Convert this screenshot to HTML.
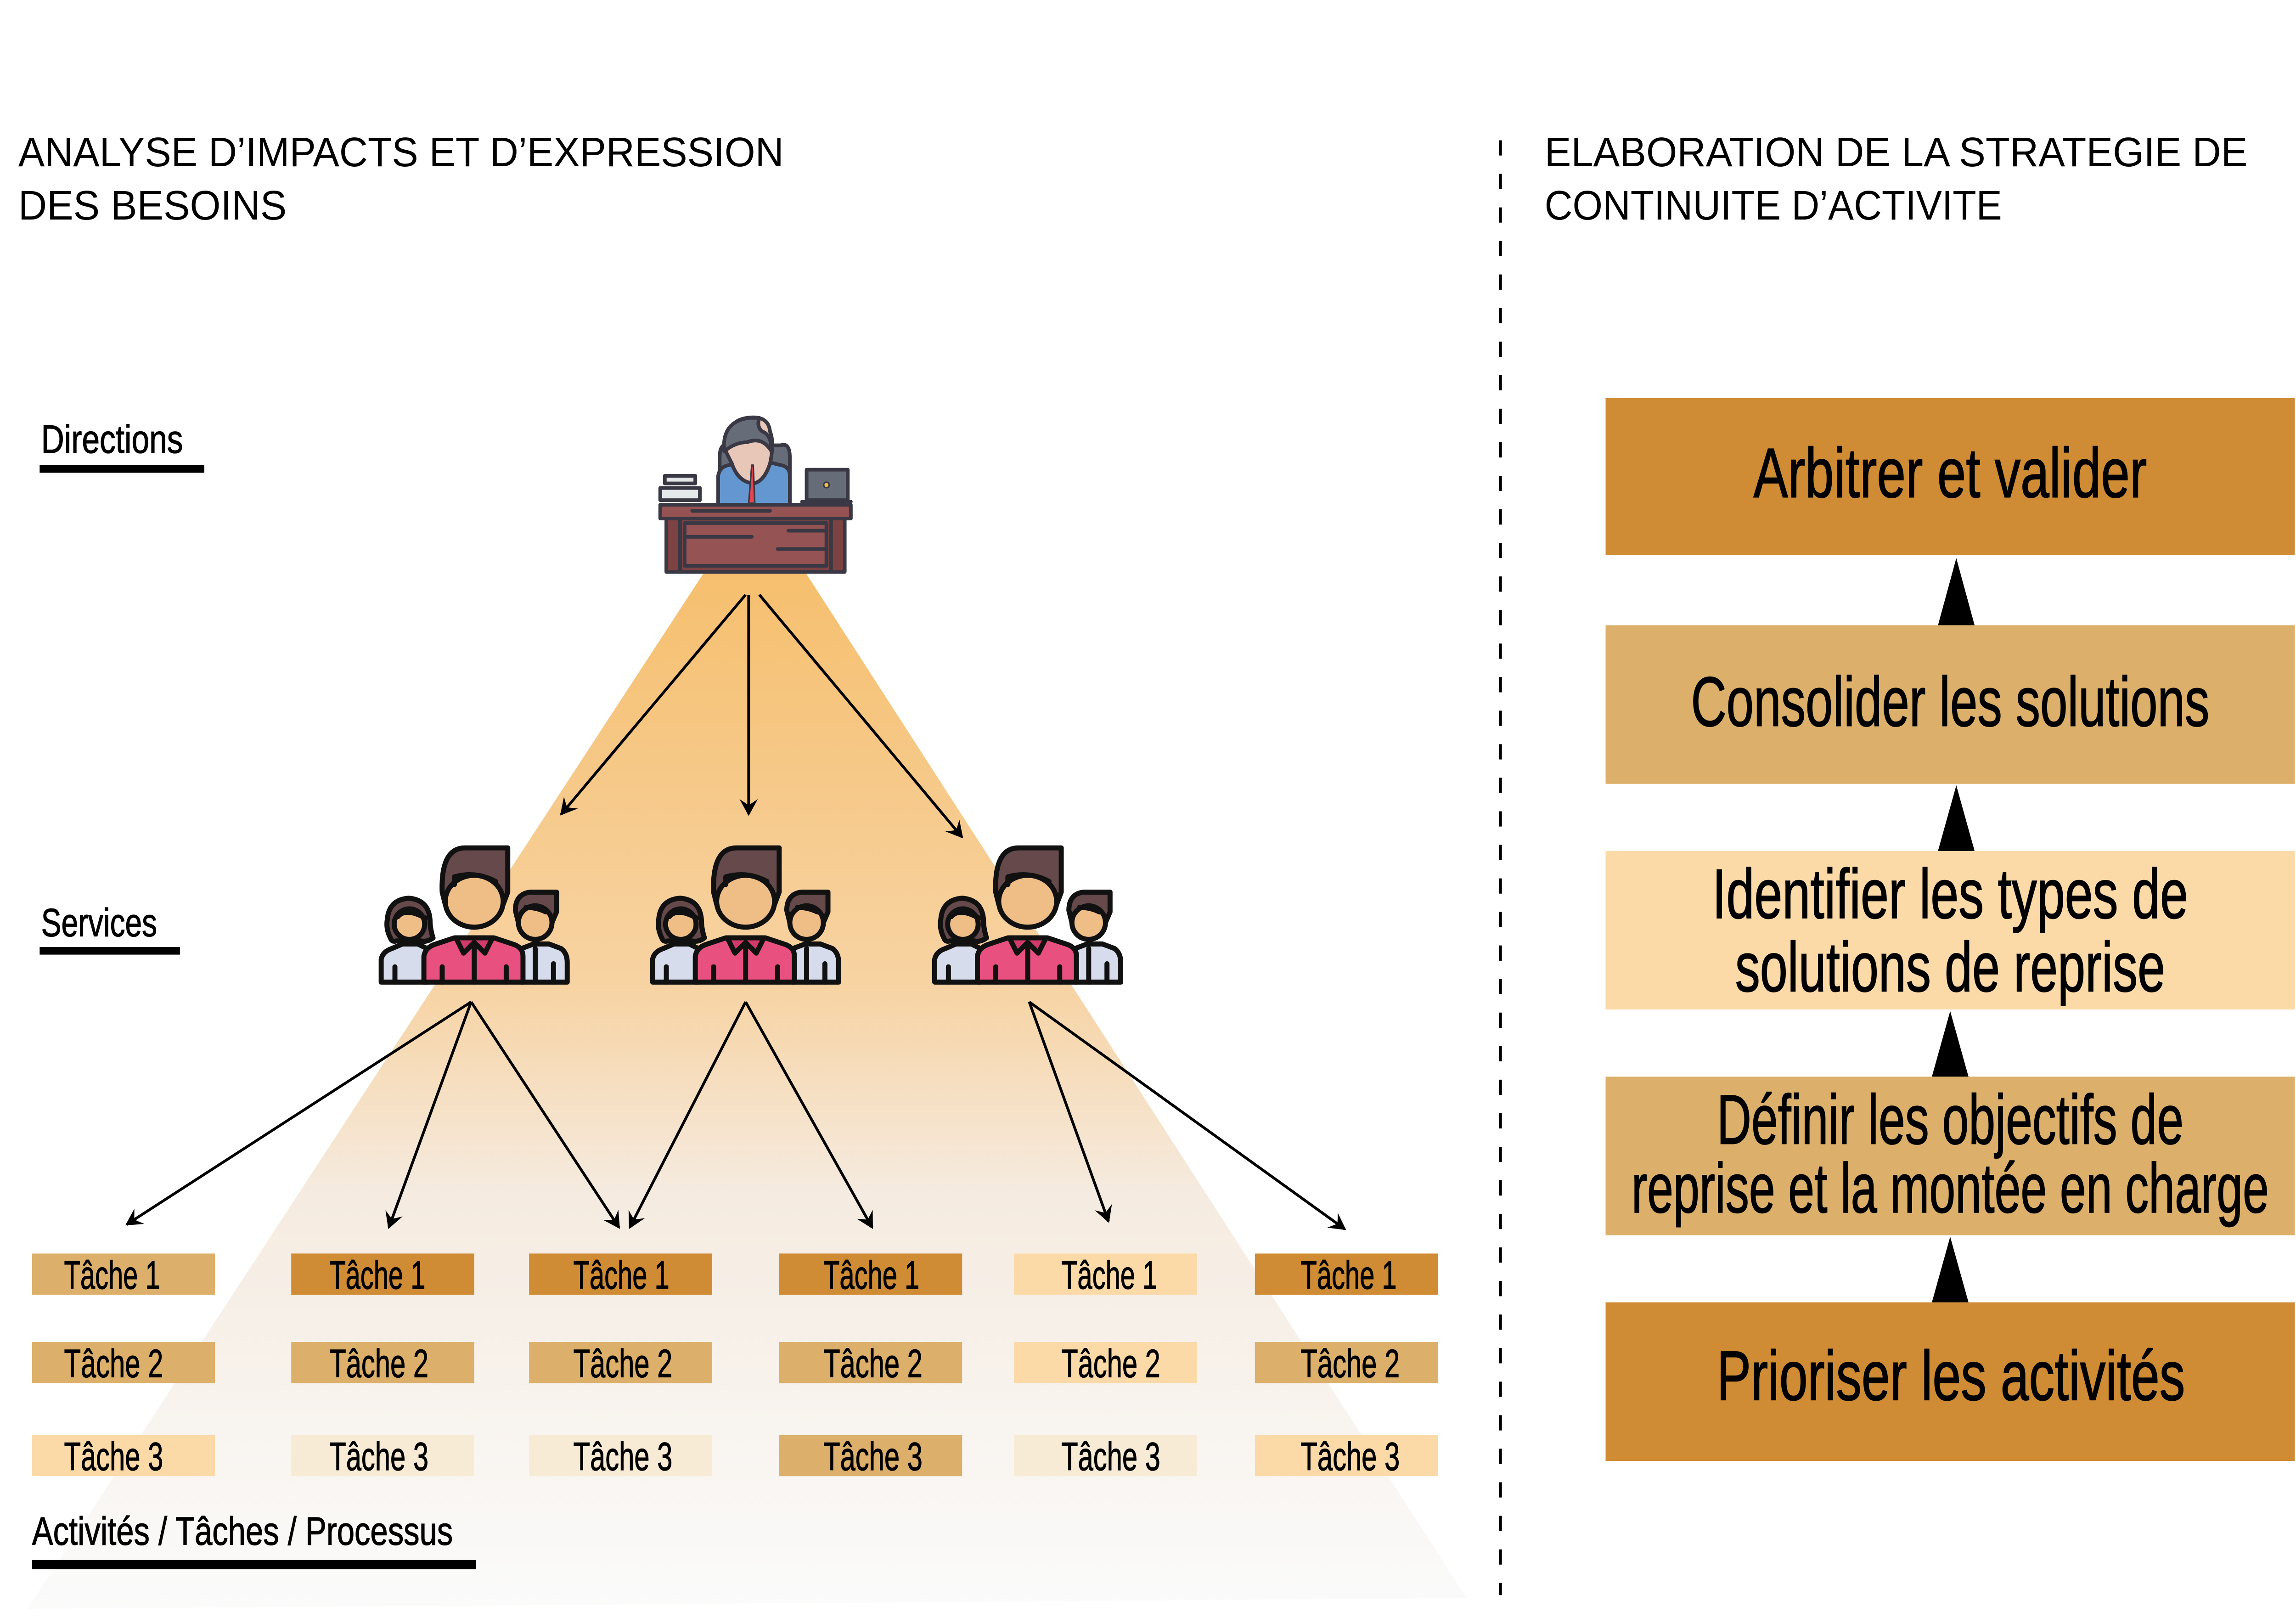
<!DOCTYPE html>
<html><head><meta charset="utf-8"><style>
html,body{margin:0;padding:0;background:#fff;}
svg{display:block;}
text{font-family:"Liberation Sans Narrow","Liberation Sans",sans-serif;fill:#000;}
.t{font-size:26px;stroke:#000;stroke-width:0.4;}
.h{font-family:"Liberation Sans",sans-serif;font-size:27px;}
.b{font-size:46px;stroke:#000;stroke-width:0.6;}
</style></head><body>
<svg width="5180" height="3523" viewBox="0 0 1560 1061" preserveAspectRatio="none" xmlns="http://www.w3.org/2000/svg">
<defs>
<linearGradient id="cone" x1="0" y1="0" x2="0" y2="1">
<stop offset="0" stop-color="#f6bf6e"/>
<stop offset="0.4" stop-color="#f7d3a3"/>
<stop offset="0.6" stop-color="#f5ebe0"/>
<stop offset="1" stop-color="#fbfbfb"/>
</linearGradient>
<marker id="ah" markerWidth="12" markerHeight="12" refX="10" refY="6" orient="auto" markerUnits="userSpaceOnUse">
<path d="M0,0 L11,6 L0,12 L4,6 Z" fill="#000"/>
</marker>
<g id="grp" stroke="#111" stroke-width="3.3" stroke-linejoin="round" stroke-linecap="round">
<path d="M8,99 L8,84 Q9,79 15,77 L22,74 L32,74 L38,77 L38,99 Z" fill="#d6dceb"/>
<path d="M14,70 Q11,64 12,58 Q13,45 26,44 Q39,45 40,58 Q40,64 42,70 Q38,73 34,72 L18,72 Q15,73 14,70 Z" fill="#65494b"/>
<circle cx="26.5" cy="61" r="10" fill="#efbe86"/>
<path d="M19,56 Q24,50 37,57" fill="none"/>
<path d="M100,99 L100,77 L108,74 L118,74 L126,77 Q130,80 130,86 L130,99 Z" fill="#d6dceb"/>
<path d="M96,52 Q96,41 106,40 L123,40 L123,53 L120,60 L98,60 Z" fill="#65494b"/>
<circle cx="109" cy="60" r="11" fill="#efbe86"/>
<path d="M103,50 Q110,50 116,53" fill="none"/>
<line x1="109" y1="77" x2="109" y2="99"/>
<line x1="121" y1="87" x2="121" y2="99"/>
<path d="M36,99 L36,82 Q37,76 44,74 L56,70 L82,70 L94,74 Q101,76 101,82 L101,99 Z" fill="#e8507f"/>
<path d="M57,70 L62,80 L69,73 L76,80 L81,70 Z" fill="#d13a6a"/>
<path d="M48,40 Q47,11 63,11 L91,11 L91,40 L88,48 L50,48 Z" fill="#65494b"/>
<ellipse cx="69" cy="46" rx="19" ry="17" fill="#efbe86"/>
<path d="M56,35 L56,30 Q70,26 83,33" fill="none"/>
<line x1="69" y1="73" x2="69" y2="99"/>
<line x1="48" y1="89" x2="48" y2="99"/>
<line x1="90" y1="89" x2="90" y2="99"/>
<line x1="17" y1="89" x2="17" y2="99"/>
</g>
</defs>

<text class="h" x="12" y="109" textLength="502" lengthAdjust="spacingAndGlyphs">ANALYSE D’IMPACTS ET D’EXPRESSION</text>
<text class="h" x="12" y="144" textLength="176" lengthAdjust="spacingAndGlyphs">DES BESOINS</text>
<text class="h" x="1013" y="109" textLength="461" lengthAdjust="spacingAndGlyphs">ELABORATION DE LA STRATEGIE DE</text>
<text class="h" x="1013" y="144" textLength="300" lengthAdjust="spacingAndGlyphs">CONTINUITE D’ACTIVITE</text>

<line x1="984" y1="92" x2="984" y2="1046" stroke="#000" stroke-width="2" stroke-dasharray="10,12"/>

<polygon points="462,375 528,375 962,1048 18,1055" fill="url(#cone)"/>

<text class="t" x="27" y="297" textLength="93" lengthAdjust="spacingAndGlyphs">Directions</text>
<rect x="26" y="305" width="108" height="5" fill="#000"/>
<text class="t" x="27" y="614" textLength="76" lengthAdjust="spacingAndGlyphs">Services</text>
<rect x="26" y="621" width="92" height="5" fill="#000"/>
<text class="t" x="21" y="1013" textLength="276" lengthAdjust="spacingAndGlyphs">Activités / Tâches / Processus</text>
<rect x="21" y="1023" width="291" height="6" fill="#000"/>

<g stroke="#393844" stroke-width="2.4" stroke-linejoin="round" stroke-linecap="round">
<path d="M472,338 L472,300 Q472,290 478,292 L512,292 Q518,290 518,300 L518,338 Z" fill="#676d78"/>
<path d="M471,332 L471,312 Q472,306 478,305 L490,302 L500,302 L512,305 Q518,306 518,312 L518,332 Z" fill="#6497d0"/>
<path d="M476,296 Q475,276 490,274 Q504,272 505,283 Q508,290 505,304 Q501,316 494,317 Q484,316 480,304 Z" fill="#e8c6b8"/>
<path d="M475,296 Q473,276 492,274 L498,274 Q496,280 500,283 Q506,285 506,296 Q500,286 490,290 Q482,290 475,296Z" fill="#676d78"/>
<path d="M493,305 L491,330 L495,330 L494,305 Z" fill="#e5454f" stroke-width="1"/>
<rect x="433" y="320" width="26" height="8" fill="#e5e8eb"/>
<rect x="436" y="312" width="20" height="5" fill="#e5e8eb"/>
<rect x="529" y="308" width="27" height="20" fill="#676d78"/>
<line x1="526" y1="329" x2="558" y2="329"/>
<circle cx="542" cy="318" r="1.8" fill="#f5c343" stroke-width="1"/>
<rect x="433" y="331" width="125" height="9" fill="#965353"/>
<rect x="437" y="340" width="117" height="35" fill="#7d4343"/>
<rect x="449" y="343" width="93" height="28" fill="#965353"/>
<line x1="450" y1="352" x2="493" y2="352"/>
<line x1="517" y1="348" x2="541" y2="348"/>
<line x1="510" y1="360" x2="541" y2="360"/>
<line x1="454" y1="335" x2="505" y2="335"/>
<line x1="446" y1="340" x2="446" y2="375"/>
<line x1="545" y1="340" x2="545" y2="375"/>
</g>

<g stroke="#000" stroke-width="1.8" fill="none" marker-end="url(#ah)">
<line x1="489" y1="390" x2="368" y2="534"/>
<line x1="491" y1="390" x2="491" y2="534"/>
<line x1="498" y1="390" x2="631" y2="549"/>
</g>

<use href="#grp" x="242" y="545"/>
<use href="#grp" x="420" y="545"/>
<use href="#grp" x="605" y="545"/>

<g stroke="#000" stroke-width="1.8" fill="none" marker-end="url(#ah)">
<line x1="309" y1="657" x2="83" y2="803"/>
<line x1="309" y1="657" x2="255" y2="805"/>
<line x1="309" y1="657" x2="406" y2="805"/>
<line x1="489" y1="657" x2="413" y2="805"/>
<line x1="489" y1="657" x2="572" y2="805"/>
<line x1="675" y1="657" x2="727" y2="801"/>
<line x1="675" y1="657" x2="882" y2="806"/>
</g>

<g>
<rect x="21" y="822" width="120" height="27" fill="#dcb06a"/>
<rect x="191" y="822" width="120" height="27" fill="#cf8c34"/>
<rect x="347" y="822" width="120" height="27" fill="#cf8c34"/>
<rect x="511" y="822" width="120" height="27" fill="#cf8c34"/>
<rect x="665" y="822" width="120" height="27" fill="#fbdaa8"/>
<rect x="823" y="822" width="120" height="27" fill="#cf8c34"/>
<rect x="21" y="880" width="120" height="27" fill="#dcb06a"/>
<rect x="191" y="880" width="120" height="27" fill="#dcb06a"/>
<rect x="347" y="880" width="120" height="27" fill="#dcb06a"/>
<rect x="511" y="880" width="120" height="27" fill="#dcb06a"/>
<rect x="665" y="880" width="120" height="27" fill="#fbdaa8"/>
<rect x="823" y="880" width="120" height="27" fill="#dcb06a"/>
<rect x="21" y="941" width="120" height="27" fill="#fbdaa8"/>
<rect x="191" y="941" width="120" height="27" fill="#f8ebd6"/>
<rect x="347" y="941" width="120" height="27" fill="#f8ebd6"/>
<rect x="511" y="941" width="120" height="27" fill="#dcb06a"/>
<rect x="665" y="941" width="120" height="27" fill="#f8ebd6"/>
<rect x="823" y="941" width="120" height="27" fill="#fbdaa8"/>
</g>
<g>
<text class="t" x="42" y="845" textLength="63" lengthAdjust="spacingAndGlyphs">Tâche 1</text>
<text class="t" x="216" y="845" textLength="63" lengthAdjust="spacingAndGlyphs">Tâche 1</text>
<text class="t" x="376" y="845" textLength="63" lengthAdjust="spacingAndGlyphs">Tâche 1</text>
<text class="t" x="540" y="845" textLength="63" lengthAdjust="spacingAndGlyphs">Tâche 1</text>
<text class="t" x="696" y="845" textLength="63" lengthAdjust="spacingAndGlyphs">Tâche 1</text>
<text class="t" x="853" y="845" textLength="63" lengthAdjust="spacingAndGlyphs">Tâche 1</text>
<text class="t" x="42" y="903" textLength="65" lengthAdjust="spacingAndGlyphs">Tâche 2</text>
<text class="t" x="216" y="903" textLength="65" lengthAdjust="spacingAndGlyphs">Tâche 2</text>
<text class="t" x="376" y="903" textLength="65" lengthAdjust="spacingAndGlyphs">Tâche 2</text>
<text class="t" x="540" y="903" textLength="65" lengthAdjust="spacingAndGlyphs">Tâche 2</text>
<text class="t" x="696" y="903" textLength="65" lengthAdjust="spacingAndGlyphs">Tâche 2</text>
<text class="t" x="853" y="903" textLength="65" lengthAdjust="spacingAndGlyphs">Tâche 2</text>
<text class="t" x="42" y="964" textLength="65" lengthAdjust="spacingAndGlyphs">Tâche 3</text>
<text class="t" x="216" y="964" textLength="65" lengthAdjust="spacingAndGlyphs">Tâche 3</text>
<text class="t" x="376" y="964" textLength="65" lengthAdjust="spacingAndGlyphs">Tâche 3</text>
<text class="t" x="540" y="964" textLength="65" lengthAdjust="spacingAndGlyphs">Tâche 3</text>
<text class="t" x="696" y="964" textLength="65" lengthAdjust="spacingAndGlyphs">Tâche 3</text>
<text class="t" x="853" y="964" textLength="65" lengthAdjust="spacingAndGlyphs">Tâche 3</text>
</g>

<rect x="1053" y="261" width="452" height="103" fill="#cf8c34"/>
<rect x="1053" y="410" width="452" height="104" fill="#dcb06a"/>
<rect x="1053" y="558" width="452" height="104" fill="#fbdaa8"/>
<rect x="1053" y="706" width="452" height="104" fill="#dcb06a"/>
<rect x="1053" y="854" width="452" height="104" fill="#cf8c34"/>
<polygon points="1283,366 1271,410 1295,410" fill="#000"/>
<polygon points="1283,515 1271,558 1295,558" fill="#000"/>
<polygon points="1279,663 1267,706 1291,706" fill="#000"/>
<polygon points="1279,811 1267,854 1291,854" fill="#000"/>
<text class="b" x="1150" y="326" textLength="258" lengthAdjust="spacingAndGlyphs">Arbitrer et valider</text>
<text class="b" x="1109" y="476" textLength="340" lengthAdjust="spacingAndGlyphs">Consolider les solutions</text>
<text class="b" x="1123" y="602" textLength="312" lengthAdjust="spacingAndGlyphs">Identifier les types de</text>
<text class="b" x="1138" y="650" textLength="282" lengthAdjust="spacingAndGlyphs">solutions de reprise</text>
<text class="b" x="1126" y="750" textLength="306" lengthAdjust="spacingAndGlyphs">Définir les objectifs de</text>
<text class="b" x="1070" y="795" textLength="418" lengthAdjust="spacingAndGlyphs">reprise et la montée en charge</text>
<text class="b" x="1126" y="918" textLength="307" lengthAdjust="spacingAndGlyphs">Prioriser les activités</text>
</svg>
</body></html>
